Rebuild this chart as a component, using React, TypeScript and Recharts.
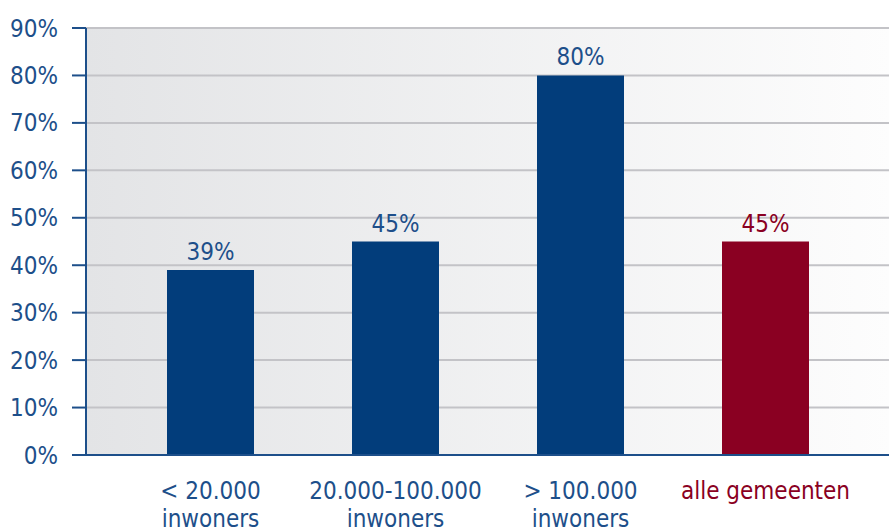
import { BarChart, Bar, XAxis, YAxis, CartesianGrid, Cell, LabelList } from "recharts";

const categories = ["< 20.000 inwoners", "20.000-100.000 inwoners", "> 100.000 inwoners", "alle gemeenten"];
const tickLines = [["< 20.000", "inwoners"], ["20.000-100.000", "inwoners"], ["> 100.000", "inwoners"], ["alle gemeenten"]];
const shares = [39, 45, 80, 45];
const yTicks = [0, 10, 20, 30, 40, 50, 60, 70, 80, 90];

const BLUE = "#023d7b";
const RED = "#8a0022";
const TEXT_BLUE = "#1d4f8a";
const FONT = "'Liberation Sans Narrow', 'DejaVu Sans Condensed', Roboto, sans-serif";

const data = categories.map((name, i) => ({ name, value: shares[i], lines: tickLines[i], total: i === 3 }));

function CatTick(props: any) {
  const { x, y, index } = props;
  const item = data[index];
  const color = item.total ? RED : TEXT_BLUE;
  return (
    <text x={x} y={y} textAnchor="middle" fill={color} fontSize={24} fontFamily={FONT}>
      {item.lines.map((l: string, i: number) => (
        <tspan key={i} x={x} dy={i === 0 ? 36 : 28}>{l}</tspan>
      ))}
    </text>
  );
}

function ValueLabel(props: any) {
  const { x, y, width, index } = props;
  const item = data[index];
  return (
    <text x={x + width / 2} y={y - 10} textAnchor="middle" fill={item.total ? RED : TEXT_BLUE}
      fontSize={24} fontFamily={FONT}>
      {item.value}%
    </text>
  );
}

export default function App() {
  return (
    <div style={{ position: "absolute", left: 0, top: 0, background: "#fff" }}>
      <BarChart width={889} height={532} data={data} margin={{ top: 28, right: 0, bottom: 0, left: 0 }}>
        <defs>
          <linearGradient id="bgGrad" x1="0" y1="0" x2="1" y2="0">
            <stop offset="0%" stopColor="#e3e4e6" />
            <stop offset="100%" stopColor="#fdfdfd" />
          </linearGradient>
        </defs>
        <CartesianGrid vertical={false} stroke="#c3c3c7" strokeWidth={2} fill="url(#bgGrad)" fillOpacity={1} />
        <XAxis
          dataKey="name"
          height={77}
          tick={<CatTick />}
          tickLine={false}
          axisLine={{ stroke: TEXT_BLUE, strokeWidth: 2 }}
          padding={{ left: 32, right: 31 }}
          interval={0}
        />
        <YAxis
          domain={[0, 90]}
          ticks={yTicks}
          width={86}
          tickSize={14}
          tickMargin={14}
          tickFormatter={(v: number) => `${v}%`}
          tick={{ fill: TEXT_BLUE, fontSize: 24, fontFamily: FONT }}
          tickLine={{ stroke: TEXT_BLUE, strokeWidth: 2 }}
          axisLine={{ stroke: TEXT_BLUE, strokeWidth: 2 }}
        />
        <Bar dataKey="value" barSize={87} isAnimationActive={false}>
          {data.map((d, i) => (
            <Cell key={i} fill={d.total ? RED : BLUE} />
          ))}
          <LabelList dataKey="value" content={<ValueLabel />} />
        </Bar>
      </BarChart>
    </div>
  );
}
